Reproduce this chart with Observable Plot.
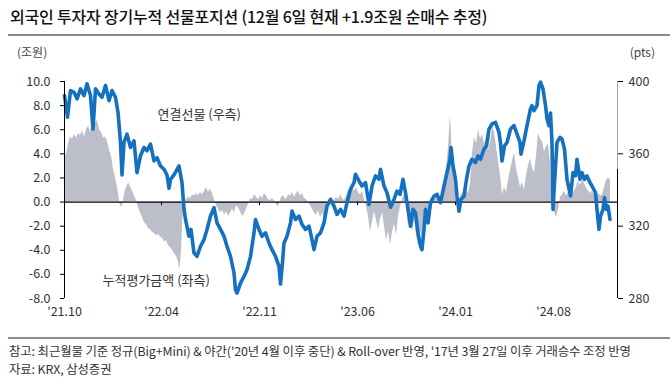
<!DOCTYPE html>
<html><head><meta charset="utf-8">
<script src="https://cdn.jsdelivr.net/npm/d3@7"></script>
<script src="https://cdn.jsdelivr.net/npm/@observablehq/plot@0.6"></script>
<style>
body{margin:0;background:#fff;}
#wrap{position:relative;width:672px;height:386px;font-family:"Noto Sans CJK KR","Noto Sans",sans-serif;color:#222;overflow:hidden;background:#fff}
.abs{position:absolute;white-space:nowrap;line-height:1.2}
</style></head><body>
<div id="wrap">
 <div class="abs" id="title" style="left:10px;top:7px;font-size:16px;font-weight:500;color:#111;letter-spacing:-0.2px">외국인 투자자 장기누적 선물포지션 (12월 6일 현재 +1.9조원 순매수 추정)</div>
 <div class="abs" style="left:8px;top:34px;width:662px;height:2px;background:#8c8c8c"></div>
 <div class="abs" style="left:17px;top:45px;font-size:12px;color:#444">(조원)</div>
 <div class="abs" style="right:17px;top:45px;font-size:12px;color:#444">(pts)</div>
 <div id="chart" class="abs" style="left:0;top:40px"></div>
 <div class="abs" style="left:8px;top:337px;width:662px;height:2px;background:#8c8c8c"></div>
 <div class="abs" id="cap1" style="left:9px;top:344px;font-size:12.4px;color:#333;letter-spacing:-0.1px">참고: 최근월물 기준 정규(Big+Mini) &amp; 야간('20년 4월 이후 중단) &amp; Roll-over 반영, '17년 3월 27일 이후 거래승수 조정 반영</div>
 <div class="abs" style="left:9px;top:362px;font-size:12.4px;color:#333;letter-spacing:-0.1px">자료: KRX, 삼성증권</div>
</div>
<script>
// time index (trading-period index), tick positions and labels
const tickT = [0, 97, 195, 293, 391, 489];
const tickLabels = ["'21.10", "'22.04", "'22.11", "'23.06", "'24.01", "'24.08"];
const leftTicks = [-8, -6, -4, -2, 0, 2, 4, 6, 8, 10];
const rightTicks = [280, 320, 360, 400];

// 누적평가금액 (조원, left axis)
const grayT = [0,2,4,6,8,10,12,14,16,18,20,22,24,26,28,29,31,33,35,37,39,41,43,45,47,49,51,53,55,56,58,59,61,63,64,66,68,70,72,74,76,78,80,82,84,86,88,90,92,94,96,98,100,102,104,106,108,110,112,114,115,116,117,118,119,120,122,124,126,128,130,132,134,136,138,140,142,144,146,148,150,152,154,156,158,160,162,164,166,168,170,172,174,176,178,180,182,184,186,188,190,192,194,196,198,200,202,204,206,208,210,212,214,216,218,220,222,224,226,228,230,232,234,236,238,240,242,244,246,248,250,252,254,256,258,260,262,264,266,268,270,272,274,276,278,280,282,284,286,288,290,292,294,296,298,300,302,304,306,308,310,312,314,316,318,320,322,324,326,328,330,332,334,336,338,340,342,344,346,348,350,352,354,356,358,360,362,364,366,368,370,372,374,376,378,380,382,384,385,386,387,388,390,392,394,396,398,400,402,404,406,408,410,412,414,416,418,420,422,424,426,428,430,432,434,436,438,440,442,444,446,448,450,452,454,456,458,460,462,464,466,468,470,472,474,476,478,480,482,484,486,487,488,490,492,494,496,498,500,502,504,506,508,510,512,514,516,518,520,522,524,526,528,530,532,534,536,538,540,542,544,546];
const grayV = [3.5,4.0,4.8,5.4,5.2,5.6,5.3,5.7,5.5,5.9,5.4,6.0,6.3,5.8,6.8,7.4,6.5,6.8,6.0,5.8,5.3,5.4,5.0,4.3,3.8,2.7,2.0,1.2,0.1,-0.3,-0.4,0.2,1.0,1.4,1.6,1.3,0.9,0.5,0.1,-0.5,-0.9,-1.3,-1.7,-1.9,-2.2,-2.3,-2.5,-2.6,-2.8,-2.7,-2.9,-3.0,-3.3,-3.2,-3.6,-3.8,-4.0,-4.3,-4.5,-5.0,-5.6,-5.2,-4.0,-2.1,-0.5,0.0,0.2,0.4,0.3,0.6,0.5,0.7,0.5,0.8,0.6,0.9,1.2,0.8,1.1,0.7,0.2,-0.3,-0.6,-0.9,-0.7,-1.1,-0.8,-1.2,-0.9,-0.6,-0.9,-0.3,-0.5,-0.8,-1.2,-1.0,-0.6,-0.2,0.3,0.2,0.6,0.4,0.2,0.5,0.3,0.7,0.5,0.2,0.1,0.3,0.1,-0.2,-0.4,0.2,0.5,0.4,0.2,0.6,0.5,0.8,0.4,0.7,0.9,0.5,0.7,0.3,0.2,0.0,-0.3,-0.6,-0.9,-1.1,-0.7,-1.3,-0.9,-1.5,-1.0,-0.5,-0.2,0.2,0.1,0.4,0.2,0.6,0.3,0.1,0.5,1.0,0.7,1.3,0.9,1.2,0.8,0.6,0.9,0.2,-0.4,-1.2,-2.5,-1.6,-0.8,-1.5,-2.3,-1.4,-0.9,-2.0,-3.2,-2.4,-3.6,-2.5,-1.8,-2.8,-1.2,-0.4,0.3,0.6,-0.2,-2.0,-1.0,-2.5,-1.5,-2.8,-3.6,-2.4,-3.0,-1.2,-0.6,-1.4,-0.9,-0.3,0.3,0.5,0.8,0.4,1.0,1.8,2.8,4.5,6.0,7.2,5.5,3.5,1.6,0.3,-0.2,0.4,0.8,0.6,1.0,0.7,1.5,4.0,5.4,4.8,6.0,5.2,5.6,4.8,5.3,4.3,5.0,6.2,5.8,4.6,3.4,2.2,0.6,1.2,0.8,1.8,2.6,3.4,4.1,2.8,2.0,1.2,1.6,1.0,2.2,3.0,3.6,2.8,2.4,3.8,5.7,5.2,5.0,4.2,4.6,4.8,3.2,1.0,-0.3,-0.8,-1.3,-0.6,0.4,0.6,0.9,0.5,0.8,0.4,0.7,0.9,1.3,1.7,1.4,1.9,1.5,1.2,0.9,0.7,0.9,0.6,0.4,0.7,0.5,0.6,1.2,1.8,2.0,1.8];

// 연결선물 (pts, right axis)
const blueT = [0,3,6,9.5,12.5,16,19.5,22.5,26,28.5,31,34.5,37.5,41,44.5,47.5,51,53.5,56,57.5,59.5,62.5,66,69.5,72.5,76,79.5,82.5,86,89.5,92.5,96,99.5,102.5,104.5,106,109.5,114.5,117.5,119.5,121,124.5,126.5,129.5,132.5,136,139.5,142.5,146,149.5,152.5,156,159.5,162.5,166,169.5,171,172.5,176,179.5,182.5,186,189.5,191,194.5,197.5,201,204.5,207.5,211,214.5,216,218,219.5,222.5,226,227.5,231,234.5,237.5,241,244.5,247.5,249.5,252.5,256,259.5,262.5,266,269.5,272.5,276,279.5,282.5,286,289.5,291,294.5,297.5,301,304.5,307.5,311,314.5,316,319.5,322.5,326,329.5,332.5,335.5,338.5,341,344.5,346,348.5,351,353.5,356,357.5,359.5,361,363.5,366,369.5,372.5,376,379.5,382.5,385.5,386.5,388.5,391,392.5,394.5,396.5,399.5,402,404.5,407.5,411,413.5,416,419.5,422,424.5,427.5,431,434.5,436,437.5,440,442.5,446,449.5,452.5,455.5,456.5,459.5,462.5,466,467.5,469.5,472.5,474.5,476,478.5,481,482.5,484.5,486,487.5,488.5,490,492.5,495.5,497.5,500,502.5,506,508.5,511,512.5,515.5,517.5,520,522.5,525.5,527.5,531,532.5,534.5,536,538.5,540,542,543.5,545.5];
const bluePts = [392.2,380.2,395,394,390.4,395.9,392.2,398.7,392.2,373.7,396,393.1,391.3,397.8,389.4,395,391.3,382.9,366.3,348.3,366.3,370.9,363.5,367.2,349.6,358.9,363.5,361.7,365.4,356.1,357.9,353.3,351.5,348.3,341,345.9,348.3,353.3,344.1,329.3,323.7,314.4,318.2,305.2,303.3,308.9,312.6,318.2,325.6,330.2,321.8,318.2,314.4,308.9,303.3,294.1,284.8,283,288.5,292.2,295.9,303.3,316.3,323.7,318.2,314.4,316.3,310.7,307,303.3,297.8,288,300,310.7,314.4,321.8,328.3,323.7,325.6,321,318.2,320,312.6,307,314.4,316.3,321.8,331.1,334.8,331.1,326.5,329.3,325.6,333,340.4,344.1,348.7,345,342.2,344.1,332,342.2,347.8,345.9,351.5,342.2,338.5,330.5,334.8,339.4,337.6,345.9,338.5,325.6,320,329.3,327.4,316.3,308.9,307,318.2,329.3,321.8,333,336.7,337.6,333,342.2,349.6,357,363.5,353.3,345.9,336.7,328.3,334.8,336.7,345.9,353.3,357,355.2,358.9,357,362.6,364.4,373.7,376.5,377.4,371.9,366,356,364.4,366.3,373.7,375.6,370.9,366.3,359.8,367.2,375.6,384.8,386.7,383.9,386.7,397.8,399.6,395.9,386.7,379.3,375.6,382.6,366.3,329.3,344.1,366.3,369.1,368.1,362.6,345.9,336.7,349.6,347.8,357,345.9,349.6,345.9,347.8,344.1,342.2,338.5,329.3,318.2,325.6,329.3,335.8,329.3,331.1,323.7];

const toLeft = p => (p - 280) * 0.15 - 8;
const toPts = v => (v + 8) / 0.15 + 280;
const gray = grayT.map((t, i) => ({t, v: grayV[i]}));
const blue = blueT.map((t, i) => ({t, y: toLeft(bluePts[i])}));

const chart = Plot.plot({
  width: 672, height: 290,
  marginTop: 41, marginBottom: 32, marginLeft: 64, marginRight: 55,
  style: {fontFamily: '"Noto Sans CJK KR","Noto Sans",sans-serif', fontSize: "12.5px", color: "#333", background: "transparent"},
  x: {domain: [0, 553], label: null},
  y: {domain: [-8, 10], label: null},
  marks: [
    Plot.areaY(gray, {x: "t", y: "v", fill: "#bcbec9"}),
    Plot.ruleY([0], {stroke: "#000", strokeWidth: 1.2}),
    Plot.ruleX(tickT, {y1: 0, y2: -0.3, stroke: "#000"}),
    Plot.line(blue, {x: "t", y: "y", stroke: "#1570c0", strokeWidth: 3.6, strokeLinejoin: "round", strokeLinecap: "round"}),
    Plot.ruleX([0], {y1: -8, y2: 10, stroke: "#000"}),
    Plot.ruleX([553], {y1: -8, y2: 2.7, stroke: "#000"}),
    Plot.ruleX([553], {y1: 2.7, y2: 10, stroke: "#a0a2ae"}),
    Plot.axisY(leftTicks, {anchor: "left", tickSize: 4, tickPadding: 10, tickFormat: d => d.toFixed(1), label: null, stroke: "#000"}),
    Plot.axisY(rightTicks.map(toLeft), {anchor: "right", tickSize: 5, tickPadding: 6, tickFormat: v => String(Math.round(toPts(v))), label: null, stroke: "#000"}),
    Plot.axisX(tickT, {anchor: "bottom", tickSize: 0, tickPadding: 9, tickFormat: d => tickLabels[tickT.indexOf(d)], label: null}),
    Plot.text(["연결선물 (우측)"], {x: 93, y: 7.25, text: d => d, textAnchor: "start", fontSize: 13, fill: "#333"}),
    Plot.text(["누적평가금액 (좌측)"], {x: 38, y: -6.5, text: d => d, textAnchor: "start", fontSize: 13, fill: "#333"})
  ]
});
document.getElementById("chart").appendChild(chart);
</script>
</body></html>
